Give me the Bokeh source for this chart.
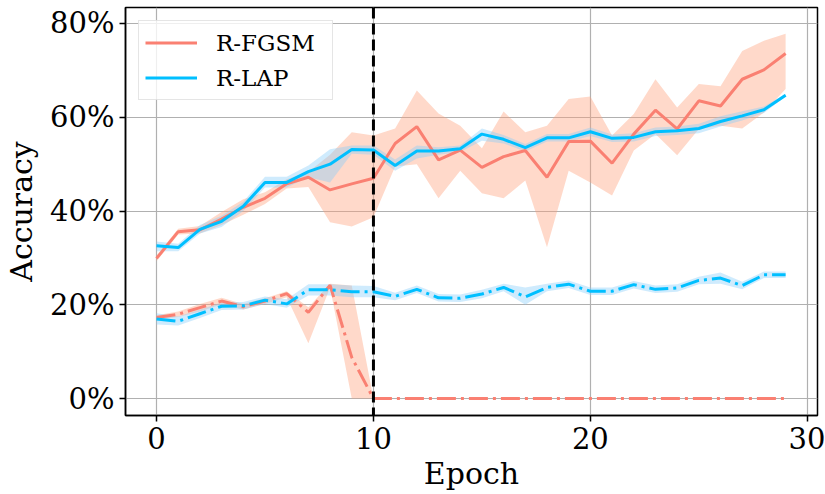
from bokeh.plotting import figure
from bokeh.models import Range1d, Span, Legend, LegendItem, PrintfTickFormatter, FixedTicker
from bokeh.embed import file_html
from bokeh.resources import INLINE

epochs = list(range(30))

# R-LAP clean (solid)
lap_clean = [32.6, 32.2, 36.1, 37.8, 41.0, 46.1, 46.1, 48.4, 50.0, 53.1, 53.0, 49.7, 52.8, 52.8, 53.3,
             56.4, 55.3, 53.5, 55.6, 55.6, 56.9, 55.5, 55.7, 56.9, 57.1, 57.6, 59.1, 60.3, 61.6, 64.7]
lap_clean_hi = [33.5, 33.0, 37.0, 39.0, 42.0, 47.3, 47.3, 49.7, 53.2, 54.0, 54.0, 51.0, 54.0, 53.6, 54.0,
                57.6, 56.2, 54.3, 56.4, 56.4, 57.8, 56.3, 56.6, 57.8, 58.0, 58.6, 60.2, 61.3, 62.3, 65.0]
lap_clean_lo = [31.4, 31.4, 35.2, 36.6, 40.0, 45.0, 45.0, 47.2, 46.1, 52.2, 52.0, 48.6, 51.2, 52.0, 52.6,
                55.0, 54.4, 52.7, 54.8, 54.8, 56.0, 54.7, 54.8, 56.0, 56.2, 56.6, 58.0, 59.3, 60.9, 64.4]

# R-FGSM clean (solid)
fgsm_clean = [29.9, 35.6, 36.0, 38.3, 40.8, 42.7, 45.8, 47.2, 44.5, 45.8, 47.0, 54.4, 58.0, 50.9, 53.0,
              49.3, 51.6, 52.9, 47.2, 54.8, 54.9, 50.2, 56.4, 61.5, 57.5, 63.5, 62.4, 68.1, 70.1, 73.6]
fgsm_clean_hi = [30.5, 36.2, 36.8, 39.8, 42.5, 44.0, 46.8, 48.3, 52.0, 56.8, 56.1, 57.6, 65.7, 60.8, 58.2,
                 53.4, 61.2, 56.8, 58.2, 63.9, 64.4, 56.1, 60.7, 68.1, 62.1, 67.1, 66.6, 74.1, 76.3, 77.8]
fgsm_clean_lo = [29.3, 35.0, 35.2, 37.0, 39.2, 41.5, 44.8, 45.1, 37.6, 36.7, 38.7, 49.5, 50.0, 42.7, 48.6,
                 43.8, 42.7, 46.5, 32.3, 48.6, 46.1, 43.3, 52.9, 56.4, 51.9, 57.5, 58.2, 57.6, 61.0, 66.0]

# R-FGSM robust (dash-dot)
fgsm_rob = [17.3, 18.0, 19.4, 20.8, 19.6, 20.8, 22.4, 18.4, 24.2, 8.8, 0.0, 0.0, 0.0, 0.0, 0.0,
            0.0, 0.0, 0.0, 0.0, 0.0, 0.0, 0.0, 0.0, 0.0, 0.0, 0.0, 0.0, 0.0, 0.0, 0.0]
fgsm_rob_hi = [17.8, 18.6, 20.2, 21.5, 20.2, 21.4, 22.9, 19.5, 24.5, 24.1, 0.0, 0.0, 0.0, 0.0, 0.0,
               0.0, 0.0, 0.0, 0.0, 0.0, 0.0, 0.0, 0.0, 0.0, 0.0, 0.0, 0.0, 0.0, 0.0, 0.0]
fgsm_rob_lo = [16.8, 17.4, 18.6, 20.1, 19.0, 20.2, 21.6, 11.8, 23.7, 0.0, 0.0, 0.0, 0.0, 0.0, 0.0,
               0.0, 0.0, 0.0, 0.0, 0.0, 0.0, 0.0, 0.0, 0.0, 0.0, 0.0, 0.0, 0.0, 0.0, 0.0]

# R-LAP robust (dash-dot)
lap_rob = [17.0, 16.5, 18.1, 19.7, 19.8, 21.0, 20.2, 23.2, 23.2, 22.8, 22.8, 21.8, 23.3, 21.5, 21.4,
           22.3, 23.7, 21.7, 23.7, 24.4, 22.9, 22.9, 24.3, 23.3, 23.6, 25.2, 25.7, 24.1, 26.4, 26.4]
lap_rob_hi = [18.2, 17.5, 19.0, 20.5, 20.6, 21.8, 21.2, 24.4, 24.4, 24.1, 24.0, 22.6, 24.1, 22.3, 22.2,
              23.2, 24.5, 23.7, 24.5, 25.2, 23.7, 23.7, 25.1, 24.1, 24.4, 26.0, 26.9, 24.9, 27.1, 27.1]
lap_rob_lo = [15.8, 15.6, 17.2, 18.9, 19.0, 20.2, 19.4, 22.0, 22.0, 21.6, 21.6, 21.0, 22.5, 20.7, 20.6,
              21.4, 22.9, 20.0, 22.9, 23.6, 22.1, 22.1, 23.5, 22.5, 22.8, 24.4, 24.5, 23.3, 25.7, 25.7]

x_ticks = [0, 10, 20, 30]
y_ticks = [0, 20, 40, 60, 80]
switch_epoch = 10

RED = "#FA8072"
RED_FILL = "#FFA07A"
BLUE = "#00BFFF"
BLUE_FILL = "#87CEFA"
FONT = "DejaVu Serif"

p = figure(width=825, height=494, output_backend="svg", toolbar_location=None,
           x_range=Range1d(-1.43, 30.47), y_range=Range1d(-3.6, 83.4),
           min_border_left=125, min_border_right=8, min_border_top=7, min_border_bottom=79)
p.frame_width = 692
p.frame_height = 408

# bands
p.varea(x=epochs, y1=fgsm_clean_lo, y2=fgsm_clean_hi, fill_color=RED_FILL, fill_alpha=0.4)
p.varea(x=epochs, y1=fgsm_rob_lo, y2=fgsm_rob_hi, fill_color=RED_FILL, fill_alpha=0.4)
p.varea(x=epochs, y1=lap_clean_lo, y2=lap_clean_hi, fill_color=BLUE_FILL, fill_alpha=0.4)
p.varea(x=epochs, y1=lap_rob_lo, y2=lap_rob_hi, fill_color=BLUE_FILL, fill_alpha=0.4)

r_fgsm = p.line(epochs, fgsm_clean, line_color=RED, line_width=3)
p.line(epochs, fgsm_rob, line_color=RED, line_width=3, line_dash="19 5 3 5")
r_lap = p.line(epochs, lap_clean, line_color=BLUE, line_width=3)
p.line(epochs, lap_rob, line_color=BLUE, line_width=3, line_dash="19 5 3 5")

p.add_layout(Span(location=switch_epoch, dimension="height", line_color="black",
                  line_width=3, line_dash="11 5"))

legend = Legend(items=[LegendItem(label="R-FGSM", renderers=[r_fgsm]),
                       LegendItem(label="R-LAP", renderers=[r_lap])],
                location="top_left", margin=13)
legend.label_text_font = FONT
legend.label_text_font_size = "23px"
legend.label_text_color = "black"
legend.glyph_width = 52
legend.glyph_height = 31
legend.label_width = 110
legend.label_standoff = 19
legend.spacing = 4
legend.padding = 6
legend.border_line_color = "#cccccc"
legend.border_line_width = 1.5
legend.background_fill_alpha = 0.8
p.add_layout(legend)

p.xaxis.ticker = FixedTicker(ticks=x_ticks)
p.yaxis.ticker = FixedTicker(ticks=y_ticks)
p.yaxis.formatter = PrintfTickFormatter(format="%d%%")
p.xaxis.axis_label = "Epoch"
p.yaxis.axis_label = "Accuracy"
for ax in (p.xaxis, p.yaxis):
    ax.axis_label_text_font = FONT
    ax.axis_label_text_font_size = "30px"
    ax.axis_label_text_font_style = "normal"
    ax.major_label_text_font = FONT
    ax.major_label_text_font_size = "29px"
    ax.major_label_text_color = "black"
    ax.axis_label_text_color = "black"
    ax.axis_line_color = "black"
    ax.axis_line_width = 1.5
    ax.major_tick_line_color = "black"
    ax.major_tick_line_width = 1.5
    ax.major_tick_out = 6
    ax.major_tick_in = 0
    ax.minor_tick_line_color = None
p.xaxis.axis_label_standoff = 4
p.yaxis.axis_label_standoff = 8
p.xgrid.grid_line_color = "#b0b0b0"
p.ygrid.grid_line_color = "#b0b0b0"
p.xgrid.grid_line_width = 1.2
p.ygrid.grid_line_width = 1.2
p.outline_line_color = "black"
p.outline_line_width = 1.5
p.outline_line_alpha = 1.0

open("out.html", "w").write(file_html(p, INLINE))
